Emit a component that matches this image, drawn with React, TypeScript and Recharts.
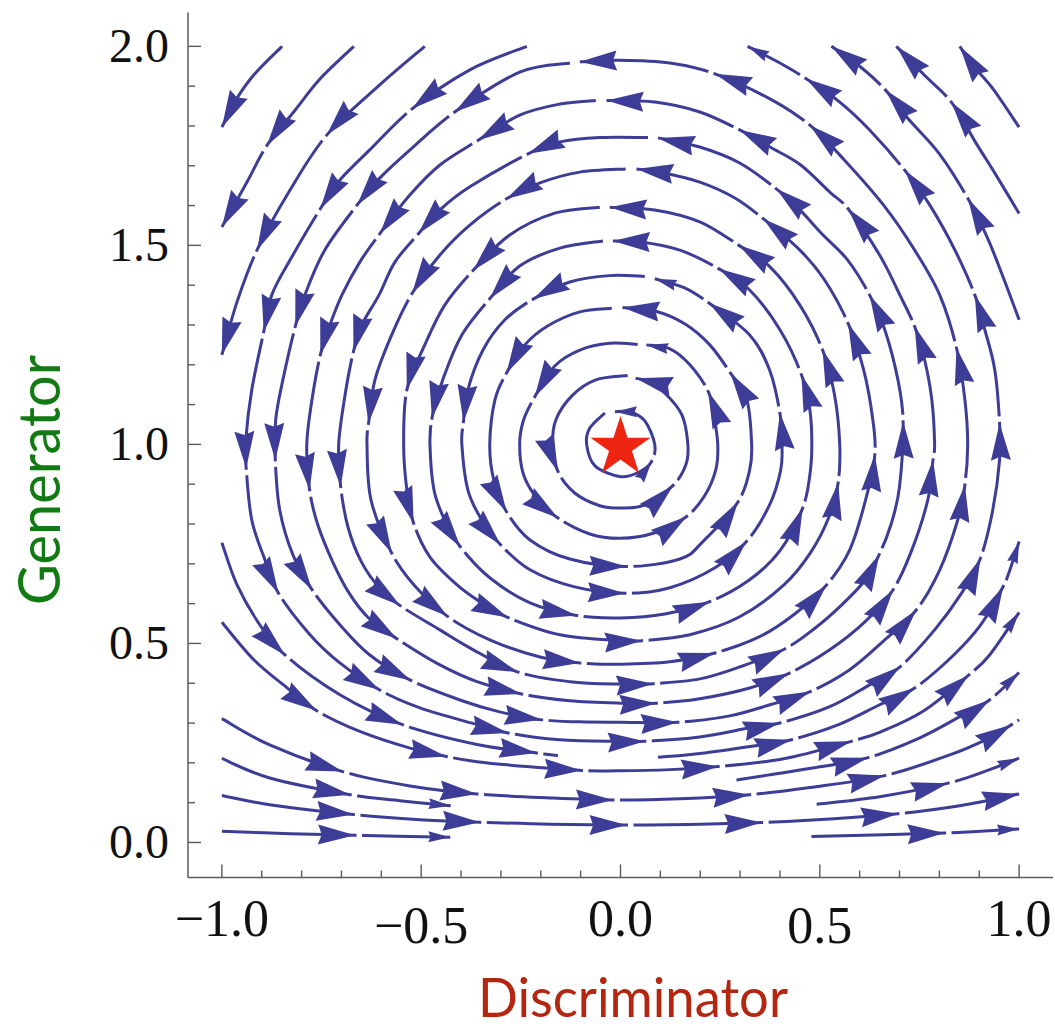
import React from 'react';
import { ComposedChart, Line, Scatter, XAxis, YAxis } from 'recharts';

// ---- streamline samples: [x, y, arrowFlag?] (1 = arrowhead tip, 2 = small arrowhead tip)
const O1 = [[-0.039,1.079],[-0.077,1.041],[-0.085,1.0],[-0.064,0.946],[0,0.919],[0.048,0.931],[0.078,0.957,2],[0.086,1.0],[0.061,1.059],[0.023,1.082],[-0.014,1.082,2]];
const O2 = [[0.018,1.173],[-0.062,1.162],[-0.122,1.122],[-0.162,1.062],[-0.170,1.0],[-0.157,0.932,1],[-0.115,0.878],[-0.052,0.846],[0,0.840],[0.061,0.848],[0.132,0.897,1],[0.164,0.949],[0.169,1.0],[0.154,1.074],[0.111,1.129],[0.068,1.159],[0.038,1.166,1]];
const O3 = [[0.043,1.251],[-0.027,1.254],[-0.102,1.237],[-0.165,1.197],[-0.215,1.120,1],[-0.243,1.062],[-0.253,1.0],[-0.243,0.923],[-0.207,0.861],[-0.157,0.815,1],[-0.077,0.775],[0,0.764],[0.086,0.778],[0.166,0.819,1],[0.211,0.871],[0.239,0.936],[0.244,1.0],[0.234,1.074],[0.220,1.133,1],[0.174,1.200],[0.124,1.240],[0.065,1.250,2]];
const O4 = [[-0.022,1.342],[-0.102,1.333],[-0.182,1.298],[-0.240,1.250],[-0.286,1.179,1],[-0.315,1.112],[-0.328,1.0],[-0.318,0.911],[-0.286,0.831,1],[-0.227,0.760],[-0.127,0.712],[0.015,0.693,1],[0.149,0.712],[0.206,0.755],[0.295,0.856,1],[0.324,0.936],[0.329,1.0],[0.317,1.112],[0.276,1.179,1],[0.224,1.250],[0.161,1.303],[0.086,1.335],[0.005,1.344,1]];
const O5 = [[0.061,1.422],[-0.027,1.424],[-0.127,1.408],[-0.219,1.365,1],[-0.290,1.313],[-0.345,1.237],[-0.383,1.137],[-0.394,1.057,1],[-0.398,1.0],[-0.383,0.886],[-0.348,0.810],[-0.301,0.748,1],[-0.227,0.685],[-0.115,0.642],[0.011,0.626,1],[0.124,0.640],[0.237,0.690],[0.316,0.756,1],[0.374,0.848],[0.402,0.936],[0.405,1.0],[0.400,1.078,1],[0.374,1.187],[0.324,1.275],[0.222,1.355,1],[0.161,1.393],[0.086,1.416,2]];
const O6 = [[-0.044,1.511],[-0.152,1.493],[-0.253,1.448],[-0.328,1.366,1],[-0.398,1.275],[-0.446,1.162],[-0.473,1.066,1],[-0.478,1.0],[-0.468,0.886],[-0.441,0.810],[-0.402,0.743,1],[-0.328,0.665],[-0.227,0.602],[-0.110,0.570,1],[0,0.564],[0.111,0.574],[0.224,0.605,1],[0.324,0.660],[0.400,0.733],[0.457,0.840,1],[0.475,0.923],[0.480,1.0],[0.475,1.087],[0.454,1.175,1],[0.400,1.288],[0.324,1.388],[0.247,1.441,1],[0.149,1.488],[0.048,1.509],[-0.019,1.511,1]];
const O7 = [[-0.052,1.596],[-0.165,1.581],[-0.278,1.526],[-0.370,1.437,1],[-0.441,1.350],[-0.491,1.250],[-0.536,1.137,1],[-0.544,1.0],[-0.536,0.886],[-0.519,0.802,1],[-0.478,0.717],[-0.410,0.647],[-0.350,0.603],[-0.282,0.565,1],[-0.152,0.522],[0,0.507],[0.053,0.507,1],[0.174,0.522],[0.299,0.567],[0.410,0.647],[0.478,0.730],[0.524,0.820],[0.546,0.903,1],[0.550,1.0],[0.537,1.124],[0.507,1.237,1],[0.450,1.350],[0.375,1.446],[0.297,1.500,1],[0.199,1.559],[0.086,1.589],[-0.027,1.596,1]];
const O8 = [[0.013,1.692],[-0.102,1.684],[-0.202,1.657],[-0.286,1.617,1],[-0.378,1.551],[-0.453,1.476],[-0.523,1.379,1],[-0.574,1.275],[-0.616,1.162],[-0.632,1.053,1],[-0.636,1.0],[-0.626,0.861],[-0.574,0.727,1],[-0.518,0.647],[-0.434,0.568,1],[-0.328,0.509],[-0.202,0.466],[-0.102,0.451,1],[0,0.448],[0.124,0.454],[0.237,0.476,1],[0.349,0.517],[0.437,0.574],[0.517,0.647,1],[0.575,0.735],[0.615,0.861],[0.638,0.974,1],[0.633,1.062],[0.610,1.187],[0.571,1.304,1],[0.512,1.413],[0.450,1.488],[0.358,1.567,1],[0.287,1.619],[0.199,1.659],[0.099,1.684],[0.040,1.692,1]];
const O9 = [[0.069,1.771],[-0.052,1.771],[-0.152,1.760],[-0.232,1.730,1],[-0.378,1.647],[-0.453,1.589],[-0.507,1.529,1],[-0.566,1.458],[-0.606,1.375],[-0.649,1.300],[-0.670,1.233,1],[-0.691,1.124],[-0.707,1.0],[-0.702,0.894,1],[-0.683,0.790],[-0.650,0.705],[-0.605,0.640],[-0.553,0.595,1],[-0.453,0.534],[-0.378,0.489],[-0.257,0.428,1],[-0.127,0.404],[0,0.398],[0.082,0.399,1],[0.199,0.411],[0.299,0.441],[0.412,0.486,1],[0.490,0.540],[0.553,0.595],[0.610,0.655],[0.649,0.723,1],[0.679,0.800],[0.700,0.894],[0.709,1.057,1],[0.696,1.162],[0.663,1.288],[0.625,1.375,1],[0.570,1.463],[0.505,1.529],[0.450,1.589],[0.391,1.642,1],[0.299,1.707],[0.199,1.747],[0.094,1.770,1]];
const O10 = [[-0.062,1.864],[-0.152,1.855],[-0.253,1.827],[-0.357,1.764,1],[-0.453,1.702],[-0.528,1.627],[-0.604,1.529,1],[-0.654,1.458],[-0.699,1.375],[-0.729,1.300],[-0.753,1.225,1],[-0.774,1.112],[-0.787,1.0],[-0.780,0.886,1],[-0.760,0.800],[-0.722,0.705],[-0.680,0.625],[-0.630,0.562],[-0.561,0.512,1],[-0.453,0.446],[-0.360,0.404],[-0.248,0.373,1],[-0.127,0.356],[0,0.350],[0.090,0.350,1],[0.199,0.361],[0.324,0.388],[0.423,0.425,1],[0.525,0.484],[0.613,0.554],[0.684,0.635,1],[0.731,0.735],[0.771,0.861],[0.784,0.961,1],[0.788,1.0],[0.781,1.112],[0.763,1.212],[0.738,1.296,1],[0.701,1.375],[0.650,1.476],[0.571,1.592,1],[0.527,1.632],[0.452,1.702],[0.375,1.747],[0.299,1.790,1],[0.199,1.835],[0.086,1.860],[-0.035,1.864,1]];
const O11 = [[-0.127,1.958],[-0.253,1.935],[-0.416,1.835,1],[-0.528,1.740],[-0.604,1.669],[-0.661,1.601,1],[-0.742,1.488],[-0.792,1.375],[-0.816,1.296,1],[-0.847,1.162],[-0.865,1.062],[-0.866,0.961,1],[-0.855,0.836],[-0.822,0.723],[-0.774,0.635,1],[-0.704,0.547],[-0.629,0.471],[-0.526,0.407,1],[-0.403,0.358],[-0.303,0.328],[-0.198,0.308,1],[-0.102,0.303],[0,0.302],[0.144,0.302,1],[0.274,0.318],[0.375,0.346],[0.476,0.379,1],[0.575,0.434],[0.663,0.509],[0.742,0.584,1],[0.801,0.685],[0.846,0.810],[0.864,0.898,1],[0.871,1.0],[0.864,1.112],[0.843,1.242,1],[0.801,1.375],[0.738,1.488],[0.660,1.601],[0.562,1.714],[0.475,1.802,1],[0.375,1.868],[0.237,1.931,1],[0.124,1.958],[0,1.965],[-0.102,1.961,1]];
const O12 = [[-0.235,2.0],[-0.378,1.941],[-0.523,1.843,1],[-0.629,1.740],[-0.704,1.664],[-0.753,1.592,1],[-0.829,1.463],[-0.875,1.375],[-0.895,1.283,1],[-0.925,1.137],[-0.940,1.011],[-0.939,0.940,1],[-0.925,0.810],[-0.892,0.710],[-0.858,0.626,1],[-0.779,0.522],[-0.704,0.451],[-0.604,0.383,1],[-0.503,0.338],[-0.360,0.296],[-0.282,0.275,1],[-0.152,0.258],[0,0.254],[0.061,0.254,1],[0.199,0.265],[0.324,0.288],[0.400,0.300,1],[0.525,0.341],[0.625,0.396],[0.702,0.442,1],[0.788,0.534],[0.856,0.627],[0.903,0.714,1],[0.934,0.836],[0.951,0.961],[0.951,1.053,1],[0.939,1.187],[0.914,1.288],[0.889,1.375,1],[0.839,1.488],[0.776,1.601],[0.713,1.689,1],[0.625,1.790],[0.550,1.860],[0.465,1.919,1],[0.400,1.958],[0.319,2.0,2]];
const A1 = [[-0.849,2.0],[-0.920,1.928],[-0.965,1.865],[-1.0,1.797,1]];
const A2 = [[-0.669,2.0],[-0.754,1.918],[-0.820,1.835],[-0.887,1.751,1],[-0.937,1.659],[-1.0,1.546,1]];
const A3 = [[-0.491,2.0],[-0.604,1.903],[-0.737,1.777,1],[-0.829,1.639],[-0.912,1.488,1],[-0.962,1.358],[-1.0,1.225,1]];
const B1 = [[1.0,1.797],[0.934,1.894],[0.884,1.952],[0.851,2.0,1]];
const B2 = [[1.0,1.58],[0.94,1.68],[0.89,1.76],[0.830,1.860,1],[0.764,1.926],[0.692,2.0,1]];
const B3 = [[1.0,1.313],[0.96,1.42],[0.92,1.52],[0.872,1.617,1],[0.80,1.73],[0.72,1.82],[0.665,1.890,1],[0.60,1.95],[0.529,2.0,1]];
const L0 = [[-1.0,0.753],[-0.962,0.647],[-0.905,0.547],[-0.842,0.471,1],[-0.704,0.371],[-0.547,0.296,1],[-0.360,0.246],[-0.211,0.225,1],[-0.157,0.218]];
const L0R = [[0.094,0.214],[0.211,0.225],[0.359,0.246],[0.429,0.258,1],[0.547,0.296],[0.650,0.346],[0.738,0.388,1],[0.836,0.471],[0.904,0.547],[0.960,0.643,1],[0.981,0.697],[1.0,0.756,2]];
const L1 = [[-1.0,0.553],[-0.920,0.459],[-0.837,0.389],[-0.762,0.331,1],[-0.654,0.279],[-0.528,0.237],[-0.437,0.216,1],[-0.360,0.203],[-0.227,0.190],[-0.098,0.181,1],[0,0.180],[0.124,0.183],[0.245,0.191,1],[0.360,0.203],[0.437,0.216],[0.579,0.254,1],[0.653,0.278],[0.761,0.331],[0.874,0.421,1],[0.926,0.471],[1.0,0.578,2]];
const M1 = [[0.291,0.157],[0.375,0.170],[0.500,0.190],[0.621,0.213,1],[0.751,0.263],[0.851,0.316],[0.926,0.358,1],[1.0,0.427,2]];
const L2 = [[-1.0,0.311],[-0.880,0.245],[-0.697,0.178,1],[-0.528,0.142],[-0.360,0.122,1],[-0.177,0.112],[-0.019,0.107,1],[0.149,0.110],[0.324,0.120,1],[0.475,0.138],[0.663,0.168,1],[0.826,0.220],[0.926,0.263],[0.981,0.296,1],[1.0,0.308]];
const L3 = [[-1.0,0.211],[-0.880,0.162],[-0.678,0.120,1],[-0.554,0.105],[-0.426,0.092,2]];
const L7 = [[0.492,0.096],[0.650,0.115],[0.822,0.149,1],[0.926,0.183],[1.0,0.212,2]];
const L4 = [[-1.0,0.118],[-0.880,0.095],[-0.670,0.070,1],[-0.503,0.057],[-0.353,0.051,1],[-0.177,0.046],[0.015,0.044,1],[0.199,0.046],[0.354,0.050,1],[0.525,0.059],[0.696,0.072,1],[0.851,0.092],[1.0,0.122,1]];
const L5 = [[-1.0,0.028],[-0.829,0.022],[-0.666,0.018,1],[-0.427,0.013,2]];
const L6 = [[0.479,0.015],[0.813,0.024,1],[1.0,0.034,2]];

const equilibrium = [{ x: 0, y: 1 }];

const xTicks = [-1.0,-0.9,-0.8,-0.7,-0.6,-0.5,-0.4,-0.3,-0.2,-0.1,0.0,0.1,0.2,0.3,0.4,0.5,0.6,0.7,0.8,0.9,1.0];
const yTicks = [0.0,0.1,0.2,0.3,0.4,0.5,0.6,0.7,0.8,0.9,1.0,1.1,1.2,1.3,1.4,1.5,1.6,1.7,1.8,1.9,2.0];
const xDomain: [number, number] = [-1.085, 1.085];
const yDomain: [number, number] = [-0.088, 2.085];

const streamlines = [O1,O2,O3,O4,O5,O6,O7,O8,O9,O10,O11,O12,A1,A2,A3,B1,B2,B3,L0,L0R,L1,M1,L2,L3,L7,L4,L5,L6];

// ---- styles
const LINE_COLOR = '#3d3d97';
const FRAME = '#5a5a5a';
const SERIF = '"Liberation Serif","Times New Roman",Times,serif';
const TITLE_FONT = 'Lato,"Noto Sans",sans-serif';

const isMajor = (v: number) => Math.abs(v * 2 - Math.round(v * 2)) < 1e-6;
const fmt = (v: number) => (v < -1e-9 ? '\u2212' : '') + Math.abs(v).toFixed(1);

// Catmull-Rom curve factory (smooth curve through the sampled points)
const catmullRom = (context: any) => {
  let pts: number[][] = [];
  return {
    areaStart() {},
    areaEnd() {},
    lineStart() { pts = []; },
    point(x: number, y: number) { pts.push([+x, +y]); },
    lineEnd() {
      const n = pts.length;
      if (!n) return;
      context.moveTo(pts[0][0], pts[0][1]);
      for (let i = 0; i < n - 1; i++) {
        const p0 = pts[i - 1] || pts[i];
        const p1 = pts[i];
        const p2 = pts[i + 1];
        const p3 = pts[i + 2] || p2;
        context.bezierCurveTo(
          p1[0] + (p2[0] - p0[0]) / 6, p1[1] + (p2[1] - p0[1]) / 6,
          p2[0] - (p3[0] - p1[0]) / 6, p2[1] - (p3[1] - p1[1]) / 6,
          p2[0], p2[1]
        );
      }
    },
  };
};

const lineData = streamlines.map((pts) => pts.map((p) => ({ x: p[0], y: p[1] })));

const norm = (a: number, b: number) => { const l = Math.hypot(a, b) || 1; return [a / l, b / l]; };
const arrowData = streamlines.flatMap((pts) =>
  pts.flatMap((p, i) => {
    if (!p[2]) return [];
    const prev = pts[Math.max(0, i - 1)];
    const next = pts[i + 1];
    const d1 = norm(p[0] - prev[0], p[1] - prev[1]);
    const d2 = next ? norm(next[0] - p[0], next[1] - p[1]) : d1;
    const dx = 0.6 * d1[0] + 0.4 * d2[0];
    const dy = 0.6 * d1[1] + 0.4 * d2[1];
    return [{ x: p[0], y: p[1], ang: (Math.atan2(-dy, dx) * 180) / Math.PI, small: p[2] === 2 }];
  })
);

const ArrowHead = (props: any) => {
  const { cx, cy, payload } = props;
  if (cx == null || cy == null) return <g />;
  const L = payload.small ? 22 : 37;
  const W = payload.small ? 11 : 20;
  return (
    <g transform={`translate(${cx},${cy}) rotate(${payload.ang})`}>
      <rect x={1.5} y={-3.2} width={5.5} height={6.4} fill="#ffffff" />
      <polygon points={`0,0 ${-L},${-W / 2} ${-L * 0.9},0 ${-L},${W / 2}`} fill={LINE_COLOR} />
    </g>
  );
};

const StarShape = (props: any) => {
  const { cx, cy } = props;
  if (cx == null || cy == null) return <g />;
  const R = 31.5;
  const r = R * 0.382;
  const off = R * 0.095;
  const pts: string[] = [];
  for (let k = 0; k < 10; k++) {
    const rad = k % 2 === 0 ? R : r;
    const a = -Math.PI / 2 + (k * Math.PI) / 5;
    pts.push(`${cx + rad * Math.cos(a)},${cy + off + rad * Math.sin(a)}`);
  }
  return <polygon points={pts.join(' ')} fill="#ee2511" />;
};

const BottomTick = (props: any) => {
  const { x, y, payload } = props;
  const v = payload.value;
  const major = isMajor(v);
  const low = major && Math.abs(Math.abs(v) - 0.5) < 1e-6;
  return (
    <g>
      <line x1={x} y1={y} x2={x} y2={y - (major ? 13 : 7)} stroke={FRAME} strokeWidth={1.4} />
      {major && (
        <text x={x} y={y + (low ? 65 : 58)} textAnchor="middle" fontFamily={SERIF} fontSize={52} fill="#111">
          {fmt(v)}
        </text>
      )}
    </g>
  );
};
const TopTick = (props: any) => {
  const { x, y, payload } = props;
  const major = isMajor(payload.value);
  return <line x1={x} y1={y} x2={x} y2={y + (major ? 13 : 7)} stroke={FRAME} strokeWidth={1.4} />;
};
const LeftTick = (props: any) => {
  const { x, y, payload } = props;
  const v = payload.value;
  const major = isMajor(v);
  return (
    <g>
      <line x1={x} y1={y} x2={x + (major ? 13 : 7)} y2={y} stroke={FRAME} strokeWidth={1.4} />
      {major && (
        <text x={x - 19} y={y + 16} textAnchor="end" fontFamily={SERIF} fontSize={48} fill="#111">
          {fmt(v)}
        </text>
      )}
    </g>
  );
};
const RightTick = (props: any) => {
  const { x, y, payload } = props;
  const major = isMajor(payload.value);
  return <line x1={x} y1={y} x2={x - (major ? 13 : 7)} y2={y} stroke={FRAME} strokeWidth={1.4} />;
};

const W = 1055;
const H = 1029;

export default function App() {
  return (
    <div style={{ position: 'fixed', left: 0, top: 0, width: W, height: H, background: '#fff' }}>
      <ComposedChart width={W} height={H} margin={{ top: 12.5, right: 2, bottom: 0, left: 0 }}>
        <XAxis xAxisId="b" dataKey="x" type="number" domain={xDomain} allowDataOverflow ticks={xTicks} interval={0}
          tick={BottomTick} tickLine={false} tickSize={0} tickMargin={0} height={151.5}
          axisLine={{ stroke: FRAME, strokeWidth: 1.5 }} />
        <XAxis xAxisId="t" dataKey="x" orientation="top" type="number" domain={xDomain} allowDataOverflow ticks={xTicks} interval={0}
          tick={TopTick} tickLine={false} tickSize={0} tickMargin={0} height={0}
          axisLine={{ stroke: FRAME, strokeWidth: 1.5 }} />
        <YAxis yAxisId="l" dataKey="y" type="number" domain={yDomain} allowDataOverflow ticks={yTicks} interval={0}
          tick={LeftTick} tickLine={false} tickSize={0} tickMargin={0} width={188}
          axisLine={{ stroke: FRAME, strokeWidth: 1.5 }} />
        <YAxis yAxisId="r" dataKey="y" orientation="right" type="number" domain={yDomain} allowDataOverflow ticks={yTicks} interval={0}
          tick={RightTick} tickLine={false} tickSize={0} tickMargin={0} width={0}
          axisLine={{ stroke: FRAME, strokeWidth: 1.5 }} />
        {lineData.map((d, i) => (
          <Line key={`s${i}`} data={d} dataKey="y" xAxisId="b" yAxisId="l" type={catmullRom as any}
            stroke={LINE_COLOR} strokeWidth={3} dot={false} activeDot={false}
            isAnimationActive={false} />
        ))}
        <Scatter data={arrowData} dataKey="y" xAxisId="b" yAxisId="l" shape={ArrowHead} isAnimationActive={false} />
        <Scatter data={equilibrium} dataKey="y" xAxisId="b" yAxisId="l" shape={StarShape} isAnimationActive={false} />
      </ComposedChart>
      <svg width={W} height={H} style={{ position: 'absolute', left: 0, top: 0, pointerEvents: 'none' }}>
        <text transform="translate(60,480) rotate(-90)" textAnchor="middle" fontFamily={TITLE_FONT} fontSize={58}
          fill="#127a12" textLength={250} lengthAdjust="spacingAndGlyphs">Generator</text>
        <text x={633} y={1017} textAnchor="middle" fontFamily={TITLE_FONT} fontSize={55}
          fill="#b3260f" textLength={310} lengthAdjust="spacingAndGlyphs">Discriminator</text>
      </svg>
    </div>
  );
}
